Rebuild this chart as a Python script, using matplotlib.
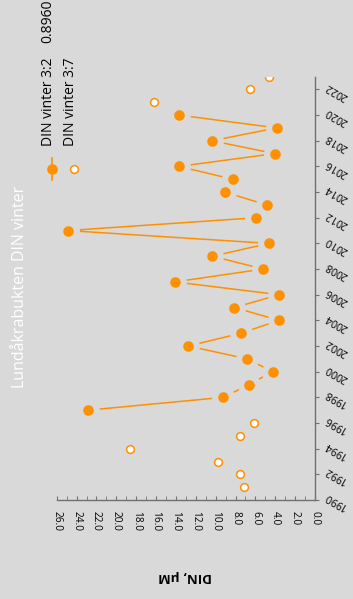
import matplotlib
matplotlib.use("Agg")
import matplotlib.pyplot as plt
import numpy as np

# Data (DIN, µM, winter values)
years_32 = list(range(1997, 2021))
din_32 = [22.88, 9.23, 6.64, 4.26, 6.84, 12.75, 7.45, 3.62, 8.12, 3.59, 14.12, 5.20,
          10.33, 4.63, 24.86, 5.94, 4.87, 9.09, 8.29, 13.69, 4.06, 10.37, 3.86, 13.69]
years_37 = [1991, 1992, 1993, 1994, 1995, 1996, 2021, 2022, 2023]
din_37 = [7.18, 7.55, 9.73, 18.62, 7.55, 6.14, 16.21, 6.58, 4.60]
year_ticks = list(range(1990, 2023, 2))
din_ticks = list(range(0, 27, 2))

bg = '#D9D9D9'
orange = '#FF9000'
W, H = 353, 599
plt.rcParams['font.family'] = ['Open Sans', 'DejaVu Sans']

fig = plt.figure(figsize=(W / 100, H / 100), dpi=100, facecolor=bg)
ax = fig.add_axes([56.7 / W, 1 - 500 / H, (315 - 56.7) / W, (500 - 76.6) / H])
ax.set_facecolor(bg)

# series 3:2 - line with gaps around markers
ax.plot(din_32, years_32, color=orange, lw=1.1, zorder=2)
ax.plot(din_32, years_32, ls='none', marker='o', ms=15.5, mfc=bg, mec=bg, zorder=3)
ax.plot(din_32, years_32, ls='none', marker='o', ms=6.6, mfc=orange, mec=orange, zorder=4)
# series 3:7 - open markers
ax.plot(din_37, years_37, ls='none', marker='o', ms=5.6, mfc='white', mec=orange, mew=1.1, zorder=4)

ax.set_xlim(26, 0)
ax.set_ylim(1990, 2023)
for s in ['top', 'left']:
    ax.spines[s].set_visible(False)
for s in ['right', 'bottom']:
    ax.spines[s].set_color('#707070')
    ax.spines[s].set_linewidth(1.0)

ax.yaxis.tick_right()
ax.set_yticks(year_ticks)
ax.set_yticklabels([str(y) for y in year_ticks])
ax.tick_params(axis='y', direction='out', length=3, color='#707070', labelsize=7.6, pad=3)
for lab in ax.get_yticklabels():
    lab.set_rotation(150)
    lab.set_rotation_mode('anchor')
    lab.set_ha('right')
    lab.set_va('top')

ax.set_xticks(din_ticks)
ax.set_xticks(range(0, 27), minor=True)
ax.set_xticklabels(['%.1f' % v for v in din_ticks], rotation=-90)
ax.tick_params(axis='x', which='both', direction='in', length=3, color='#707070', labelsize=7.3, pad=8)

fig.text(185 / W, 1 - 576 / H, 'DIN, µM', rotation=180, fontsize=9.5, fontweight='bold',
         ha='center', va='center')
fig.text(20 / W, 1 - 287 / H, 'Lundåkrabukten DIN vinter', rotation=90, color='white',
         fontsize=11.5, ha='center', va='center')

# legend, drawn by hand (rotated)
lx1, lx2, ly = 51.7 / W, 74 / W, 1 - 169.3 / H
fig.add_artist(plt.Line2D([lx1, lx1], [1 - 158 / H, 1 - 180 / H], color=orange, lw=1.2))
fig.add_artist(plt.Line2D([lx1], [ly], marker='o', ms=6.6, color=orange))
fig.add_artist(plt.Line2D([lx2], [ly], marker='o', ms=5.6, mfc='white', mec=orange, mew=1.1))
fig.text(49 / W, 1 - 146 / H, 'DIN vinter 3:2', rotation=90, fontsize=10, ha='center', va='bottom')
fig.text(71 / W, 1 - 146 / H, 'DIN vinter 3:7', rotation=90, fontsize=10, ha='center', va='bottom')
fig.text(48 / W, 1 - 43 / H, '0.8960', rotation=90, fontsize=10, ha='center', va='bottom')

fig.savefig('out.png', dpi=100, facecolor=bg)
